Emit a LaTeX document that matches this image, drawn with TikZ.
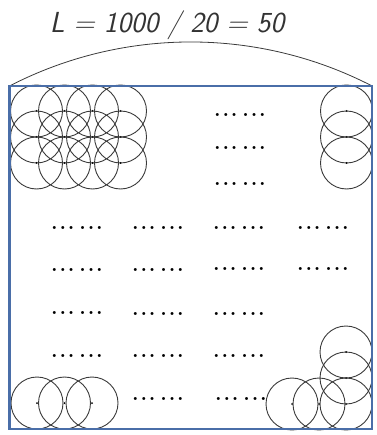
\documentclass[tikz,border=0pt]{standalone}
\usetikzlibrary{positioning}
\definecolor{colFrame}{HTML}{4A6EA8}
\definecolor{colCircle}{HTML}{3A3A3A}
\newcommand{\dotrun}{.\kern1.8pt.\kern1.8pt.\kern4.9pt.\kern1.8pt.\kern1.8pt.}

\begin{document}
\begin{tikzpicture}[x=1pt, y=-1pt,
    circ/.style={draw=colCircle, line width=0.9pt},
    ctr/.style={fill=black},
    dotgrp/.style={anchor=base, inner sep=0pt, font=\fontsize{21}{21}\selectfont\bfseries}]
  % Parameters
  \def\rad{26}
  \useasboundingbox (0,0) rectangle (376,435);

  % Title and arc over the box
  \node[anchor=base, inner sep=0pt, font=\fontsize{29}{29}\selectfont\sffamily\itshape, text=black!80] (title) at (167,33) {L = 1000 / 20 = 50};
  \draw[colCircle, line width=0.8pt] (9.5,86) arc[start angle=-117.3, end angle=-62.7, radius=395.3];

  % Circles: top left grid (4 x 3)
  \foreach \cy in {111,137,163} {
    \foreach \cx in {36.5,64.5,92.5,120.5} {
      \draw[circ] (\cx,\cy) circle[radius=\rad];
      \fill[ctr] (\cx,\cy) circle[radius=1];
    }
  }
  % Top right column, bottom left row, bottom right corner
  \foreach \cx/\cy in {346.5/111, 346.5/137, 346.5/163,
                       37/403, 64.5/403, 92/403,
                       292/404, 319/404, 346/404, 346/378, 346/352} {
    \draw[circ] (\cx,\cy) circle[radius=\rad];
    \fill[ctr] (\cx,\cy) circle[radius=1];
  }

  % Dot groups
  \foreach \dx/\dy [count=\i] in {240/116.5, 240/149.5, 240/185.5,
                                  77/229.5, 158/229.5, 239/229, 323/229,
                                  77/271.5, 158/271.5, 239/270.5, 323/270.5,
                                  77/314, 158/315.5, 239/315.5,
                                  77/357.5, 158/357.5, 239/357.5,
                                  158/400.5, 241/400.5} {
    \node[dotgrp] (dots\i) at (\dx,\dy) {\dotrun};
  }

  % Frame
  \draw[colFrame, line width=2.2pt] (9.5,86) rectangle (372,429);
\end{tikzpicture}
\end{document}
